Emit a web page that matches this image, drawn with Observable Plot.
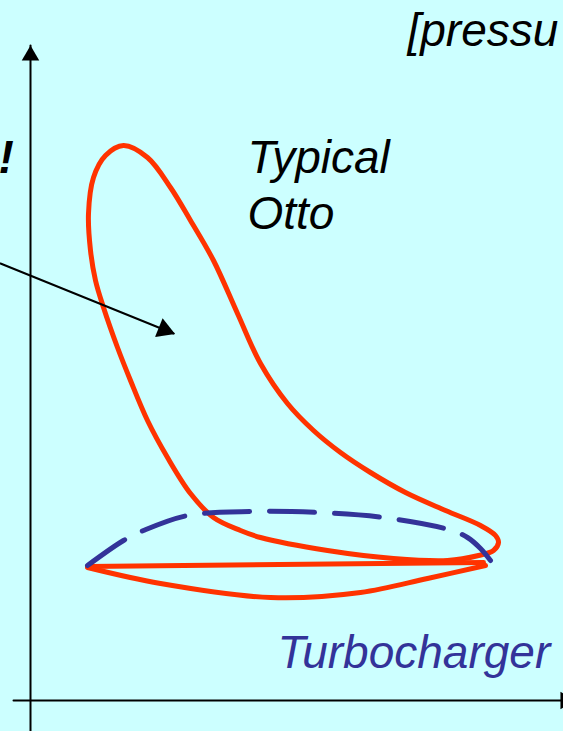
<!DOCTYPE html>
<html>
<head>
<meta charset="utf-8">
<script src="https://cdn.jsdelivr.net/npm/d3@7"></script>
<script src="https://cdn.jsdelivr.net/npm/@observablehq/plot@0.6"></script>
<style>
  html, body { margin: 0; padding: 0; background: #ccffff; overflow: hidden; }
  #chart svg { display: block; overflow: hidden; }
</style>
</head>
<body>
<div id="chart"></div>
<script>
// Schematic p–V diagram: volume V on x, pressure P on y (arbitrary units).

// Otto cycle work loop (closed), traced clockwise from the pressure peak
const ottoV = [18.6, 23.4, 28, 32, 36.6, 41.4, 46, 51.4, 56.6, 62, 68, 75, 83, 90, 93, 93.6, 92.6, 89.6, 83.4, 72.6, 59.4, 46, 42, 36.6, 32, 27.4, 23.4, 20, 17.4, 14.6, 13, 12, 11.6, 12.6, 15];
const ottoP = [111, 108.6, 102.6, 96, 88, 77.4, 67.4, 59.4, 54, 49.6, 45.6, 41.6, 38, 35, 33, 31.6, 30, 29, 28, 28.4, 30, 32.6, 34, 36.6, 41.4, 48.6, 56, 64, 70.6, 78.6, 84, 90, 97.4, 104.6, 109];

// Pumping loop: straight exhaust stroke and curved intake stroke
const exhaustV = [90.6, 11.4];
const exhaustP = [27.6, 26.8];
const intakeV = [11.4, 26, 48, 66, 79.4, 91];
const intakeP = [26.6, 23.4, 20.6, 21.6, 24.4, 27];

// Turbocharged pumping stroke (dashed)
const turboV = [11.4, 18.6, 22.6, 31.4, 44.4, 57.6, 70.6, 83.6, 87.4, 90, 92];
const turboP = [27, 32, 34, 37, 37.8, 37.6, 36.6, 34.2, 32.6, 30.4, 28];

// Pointer arrow into the loop
const pointerV = [-6, 28.6];
const pointerP = [87.4, 73.4];

// Axes
const yAxisV = [0, 0];
const yAxisP = [-6.2, 131];
const xAxisV = [-3.4, 109];
const xAxisP = [0, 0];

// Labels
const titleText = "[pressu";
const titleV = 75.4, titleP = 131;
const bangText = "!";
const bangV = -6.4, bangP = 105.5;
const ottoText = "Typical\nOtto";
const ottoLabelV = 43.4, ottoLabelP = 94.4;
const turboText = "Turbocharger";
const turboLabelV = 49.4, turboLabelP = 6.6;

const pts = (vs, ps) => vs.map((v, i) => ({V: v, P: ps[i]}));
const otto = pts(ottoV, ottoP);
const exhaust = pts(exhaustV, exhaustP);
const intake = pts(intakeV, intakeP);
const turbo = pts(turboV, turboP);

const RED = "#ff3300";
const BLUE = "#333399";
const font = "'Liberation Sans', Arial, sans-serif";

// direction of the pointer in screen space (5 px per unit on both axes)
const ang = Math.atan2(-(pointerP[1] - pointerP[0]) * 5, (pointerV[1] - pointerV[0]) * 5);
const headBack = 10;

const label = (text, V, P, opts) => Plot.text([{text, V, P}], {
  x: "V", y: "P", text: "text", textAnchor: "start", lineAnchor: "bottom",
  lineHeight: 1.2, fontFamily: font, fontStyle: "italic", fontSize: 46, fill: "black", ...opts
});

const chart = Plot.plot({
  width: 563,
  height: 731,
  margin: 0,
  style: {background: "#ccffff", overflow: "hidden"},
  x: {domain: [-6, 106.6], axis: null},
  y: {domain: [-6.2, 140], axis: null},
  marks: [
    // axes
    Plot.line(pts(yAxisV, yAxisP), {x: "V", y: "P", stroke: "black", strokeWidth: 2}),
    Plot.line(pts(xAxisV, xAxisP), {x: "V", y: "P", stroke: "black", strokeWidth: 2}),
    Plot.dot([{V: yAxisV[1], P: yAxisP[1]}], {x: "V", y: "P", symbol: "triangle", r: 6.5, fill: "black", dy: 10}),
    Plot.dot([{V: xAxisV[1], P: xAxisP[1]}], {x: "V", y: "P", symbol: "triangle", r: 6.5, fill: "black", dx: -10, rotate: 90}),
    // Otto loop and pumping loop
    Plot.line(otto, {x: "V", y: "P", curve: "catmull-rom-closed", stroke: RED, strokeWidth: 5, strokeLinejoin: "round"}),
    Plot.line(exhaust, {x: "V", y: "P", stroke: RED, strokeWidth: 5, strokeLinecap: "round"}),
    Plot.line(intake, {x: "V", y: "P", curve: "catmull-rom", stroke: RED, strokeWidth: 5, strokeLinecap: "round"}),
    // turbocharger stroke
    Plot.line(turbo, {x: "V", y: "P", curve: "catmull-rom", stroke: BLUE, strokeWidth: 5, strokeDasharray: "45,20"}),
    // pointer
    Plot.line(pts(pointerV, pointerP), {x: "V", y: "P", stroke: "black", strokeWidth: 2}),
    Plot.dot([{V: pointerV[1], P: pointerP[1]}], {
      x: "V", y: "P", symbol: "triangle", r: 7.5, fill: "black",
      dx: -headBack * Math.cos(ang), dy: -headBack * Math.sin(ang),
      rotate: 90 + ang * 180 / Math.PI
    }),
    // labels
    label(titleText, titleV, titleP),
    label(bangText, bangV, bangP, {fontWeight: "bold"}),
    label(ottoText, ottoLabelV, ottoLabelP),
    label(turboText, turboLabelV, turboLabelP, {fill: BLUE})
  ]
});

document.getElementById("chart").append(chart);
</script>
</body>
</html>
